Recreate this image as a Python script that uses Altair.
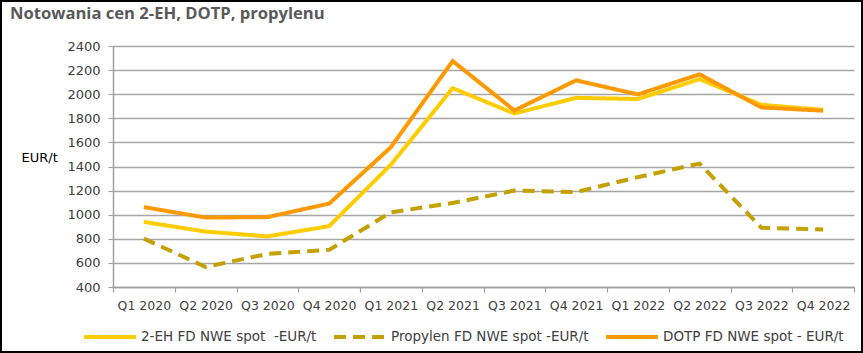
import altair as alt
import pandas as pd

quarters = ["Q1 2020", "Q2 2020", "Q3 2020", "Q4 2020",
            "Q1 2021", "Q2 2021", "Q3 2021", "Q4 2021",
            "Q1 2022", "Q2 2022", "Q3 2022", "Q4 2022"]
eh = [940, 860, 820, 905, 1415, 2050, 1840, 1970, 1960, 2125, 1912, 1870]
prop = [802, 566, 675, 708, 1020, 1097, 1200, 1188, 1312, 1424, 892, 878]
dotp = [1063, 976, 980, 1092, 1560, 2275, 1865, 2115, 1998, 2165, 1890, 1863]

series = ["2-EH FD NWE spot \u00a0-EUR/t", "Propylen FD NWE spot -EUR/t", "DOTP FD NWE spot - EUR/t"]
colors = ["#FFCC00", "#C4A000", "#FF9900"]
dashes = [[1, 0], [12, 7], [1, 0]]

rows = []
for name, vals in zip(series, [eh, prop, dotp]):
    for q, v in zip(quarters, vals):
        rows.append({"q": q, "v": v, "s": name})
df = pd.DataFrame(rows)

FONT = "DejaVu Sans"

legend = alt.Legend(
    title=None, orient="none", legendX=-31, legendY=263, direction="horizontal",
    columns=3, symbolType="stroke", symbolSize=2704, symbolStrokeWidth=4,
    labelFontSize=13.5, labelFont=FONT, labelColor="#404040", labelOffset=3,
    columnPadding=9, labelLimit=400,
)

lines = alt.Chart(df).mark_line(strokeWidth=4).encode(
    x=alt.X("q:N", sort=quarters, bandPosition=0.5,
            scale=alt.Scale(type="band", paddingInner=0, paddingOuter=0),
            axis=alt.Axis(title=None, labelAngle=0, tickBand="extent", grid=False,
                          labelFontSize=12.5,
                          tickSize=5, labelPadding=7, domainColor="#A0A0A0",
                          tickColor="#A0A0A0", domainWidth=1.5, tickWidth=1.2)),
    y=alt.Y("v:Q", scale=alt.Scale(domain=[400, 2400], nice=False),
            axis=alt.Axis(title="EUR/t", titleAngle=0, titleAlign="left",
                          titleBaseline="middle", titleX=-92, titleY=111,
                          titleFont=FONT, titleFontSize=13, titleFontWeight="normal",
                          titleColor="#000000", format="d", labelFontSize=13,
                          values=list(range(400, 2401, 200)), tickSize=5, labelPadding=8,
                          domainColor="#A0A0A0", tickColor="#A0A0A0",
                          domainWidth=1.5, tickWidth=1.2,
                          gridColor="#A6A6A6", gridWidth=1.5)),
    color=alt.Color("s:N", sort=series, scale=alt.Scale(domain=series, range=colors), legend=legend),
    strokeDash=alt.StrokeDash("s:N", sort=series, scale=alt.Scale(domain=series, range=dashes), legend=legend),
    order=alt.Order("s:N"),
)

frame = alt.Chart(pd.DataFrame({"a": [0]})).mark_rect(
    fill=None, stroke="#000000", strokeWidth=2
).encode(
    x=alt.value(-112), x2=alt.value(749), y=alt.value(-45), y2=alt.value(306)
)

chart = alt.layer(lines, frame).properties(
    width=741, height=241,
    autosize=alt.AutoSizeParams(type="none"),
    padding={"left": 113, "top": 46, "right": 9, "bottom": 66},
    title=alt.TitleParams("Notowania cen 2-EH, DOTP, propylenu", anchor="start",
                          frame="group", dx=-103, dy=23, fontSize=16.6, font="Open Sans",
                          fontWeight="bold", color="#595959", offset=0),
).configure_view(stroke=None).configure_axis(
    labelFont=FONT, labelColor="#404040"
)

chart.save("out.html", embed_options={"renderer": "svg", "actions": False})
